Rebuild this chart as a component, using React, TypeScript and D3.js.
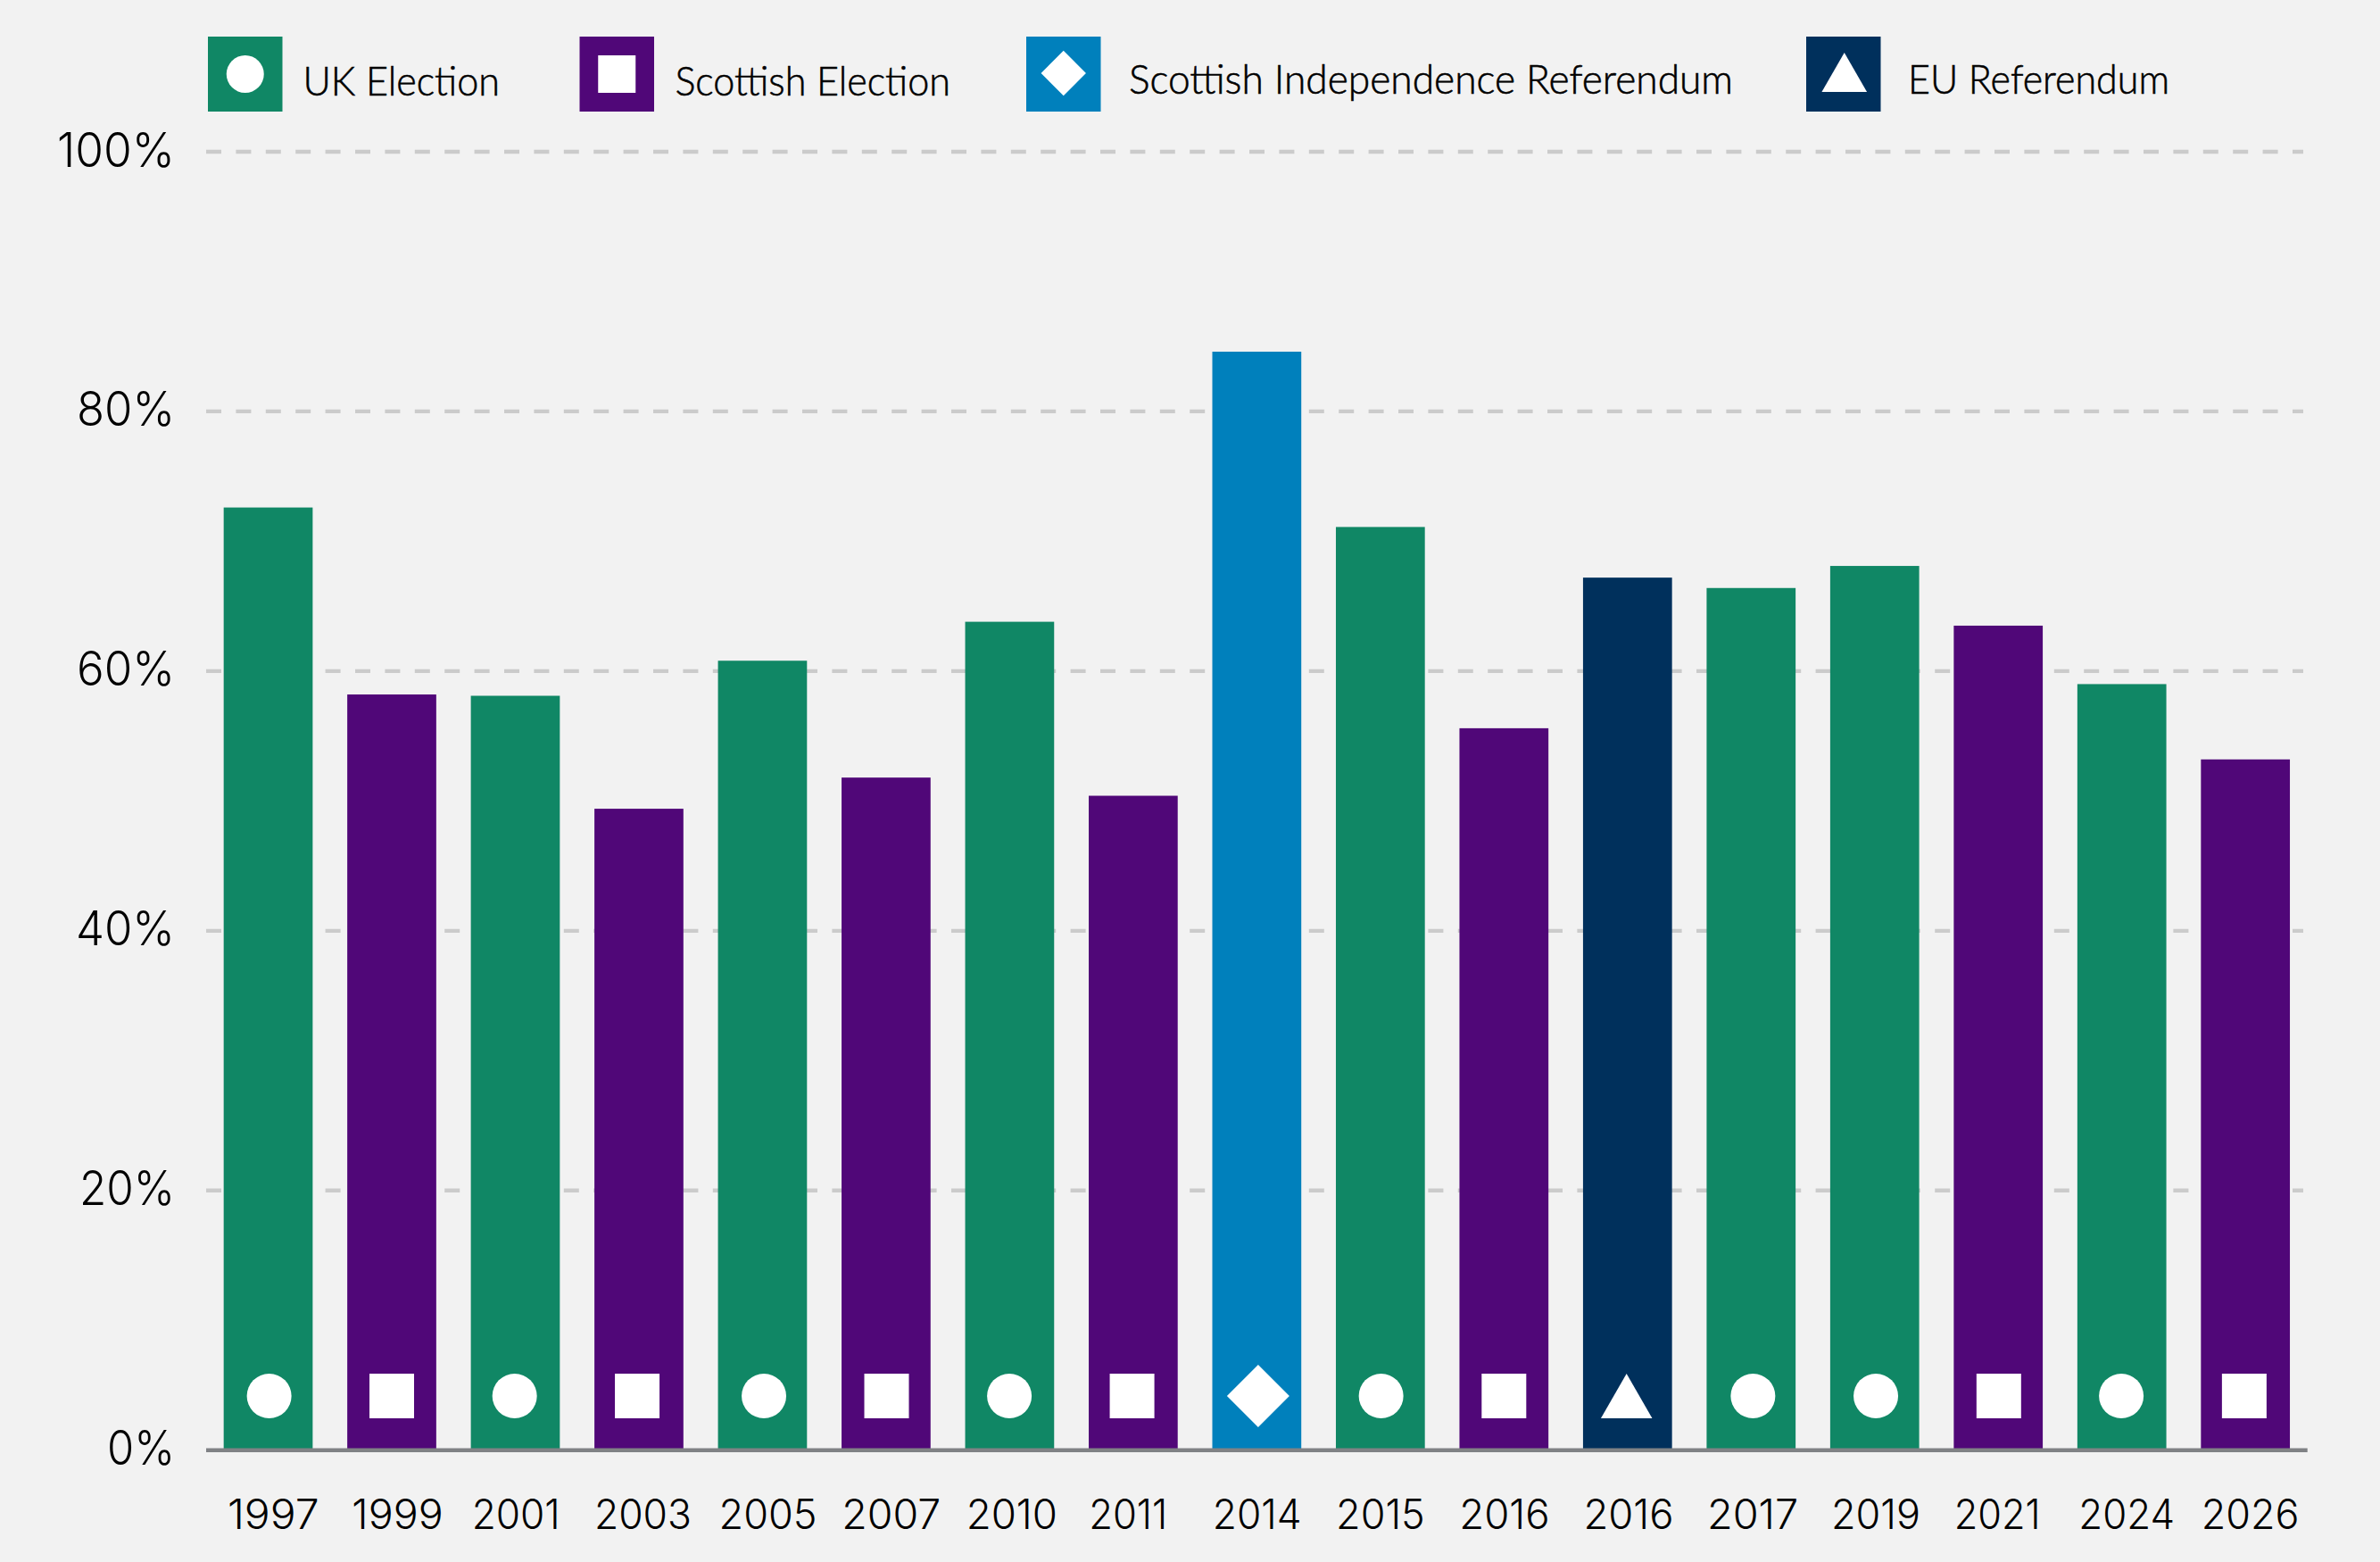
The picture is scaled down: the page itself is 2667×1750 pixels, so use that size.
import React from "react";
import * as d3 from "d3";

const yearLabels = ["1997","1999","2001","2003","2005","2007","2010","2011","2014","2015","2016","2016","2017","2019","2021","2024","2026"];
const turnoutValues = [72.6,58.2,58.1,49.4,60.8,51.8,63.8,50.4,84.6,71.1,55.6,67.2,66.4,68.1,63.5,59.0,53.2];
const voteTypes = ["uk","sco","uk","sco","uk","sco","uk","sco","ind","uk","sco","eu","uk","uk","sco","uk","sco"];
const yTicks = [0,20,40,60,80,100];
const legendKeys = ["uk","sco","ind","eu"];
const legendNames = ["UK Election","Scottish Election","Scottish Independence Referendum","EU Referendum"];

const COLORS: Record<string,string> = { uk:"#108765", sco:"#500778", ind:"#0080BC", eu:"#00305C" };
const TEXT_FONT = "Lato, 'Noto Sans', sans-serif";
const DIGIT_FONT = "Inter, Lato, sans-serif";
const W = 2667, H = 1750;

const markerNudge = [1.1,0,-0.8,-1.9,1.6,0.6,-0.3,-1.3,1.5,0.8,0,-1.1,2.1,1.3,0.6,-0.6,-1.3];
const tickNudge = [5.8,6.5,0.7,4.5,6.1,5.9,2.4,-5.7,0.3,0.1,0.7,1.2,1.8,1.3,-1.1,5.4,5.5];
const tickWidths = [98.7,98.3,95,105,106,107,98.3,84,95.7,95.7,97.3,97,98.3,96,92.7,103.7,105.7];
const yLabelWidths: Record<number,number> = {0:72,20:103,40:107,60:106,80:106,100:128};

const x = d3.scaleBand<number>().domain(d3.range(yearLabels.length)).range([231,2585.7]).paddingInner(0.28).paddingOuter(0.142);
const y = d3.scaleLinear().domain([0,100]).range([1624.7,170]);

function Marker({type,cx,cy,s}:{type:string,cx:number,cy:number,s:number}) {
  if (type==="uk") return <path transform={`translate(${cx},${cy})`} d={d3.symbol(d3.symbolCircle, Math.PI*s*s)()!} fill="#fff"/>;
  if (type==="sco") return <rect x={cx-s} y={cy-s} width={2*s} height={2*s} fill="#fff"/>;
  if (type==="ind") { const r=s*1.4; return <path d={`M${cx},${cy-r}L${cx+r},${cy}L${cx},${cy+r}L${cx-r},${cy}Z`} fill="#fff"/>; }
  return <path d={`M${cx},${cy-s}L${cx+s*1.15},${cy+s}L${cx-s*1.15},${cy+s}Z`} fill="#fff"/>;
}

const legendLayout = [
  {sx:233,tx:339.5,tw:220.5,by:107,my:83,ms:21,mdx:0},
  {sx:649.5,tx:756.5,tw:308.5,by:107,my:83,ms:21,mdx:0},
  {sx:1150,tx:1265,tw:677,by:105,my:82,ms:18,mdx:0},
  {sx:2024,tx:2138,tw:293,by:105,my:81,ms:22,mdx:1},
];

export default function App(){
  return (
    <svg width={W} height={H} viewBox={`0 0 ${W} ${H}`} style={{position:"absolute",left:0,top:0,display:"block",background:"#f2f2f2"}}>
      <rect width={W} height={H} fill="#f2f2f2"/>
      {yTicks.filter(t=>t>0).map(t=>(
        <line key={t} x1={231} x2={2581} y1={y(t)} y2={y(t)} stroke="#cbcbcb" strokeWidth={4.3} strokeDasharray="17 16.4"/>
      ))}
      {yearLabels.map((l,i)=>(
        <rect key={i} x={x(i)} y={y(turnoutValues[i])} width={x.bandwidth()} height={y(0)-y(turnoutValues[i])} fill={COLORS[voteTypes[i]]}/>
      ))}
      <line x1={231} x2={2585.7} y1={y(0)} y2={y(0)} stroke="#808285" strokeWidth={4.5}/>
      {yearLabels.map((l,i)=>(
        <Marker key={i} type={voteTypes[i]} cx={x(i)!+x.bandwidth()/2+markerNudge[i]} cy={1564} s={25}/>
      ))}
      {yTicks.map(t=>(
        <text key={t} x={194-yLabelWidths[t]-2} y={y(t)+16.5} fontFamily={DIGIT_FONT} fontSize={54} fontWeight={300} fill="#000" textLength={yLabelWidths[t]+4} lengthAdjust="spacingAndGlyphs">{t}%</text>
      ))}
      {yearLabels.map((l,i)=>(
        <text key={i} x={x(i)!+x.bandwidth()/2+tickNudge[i]-tickWidths[i]/2-2} y={1713} fontFamily={DIGIT_FONT} fontSize={46} fontWeight={300} fill="#000" textLength={tickWidths[i]+4} lengthAdjust="spacingAndGlyphs">{l}</text>
      ))}
      {legendKeys.map((k,i)=>{
        const L=legendLayout[i];
        return <g key={k}>
          <rect x={L.sx} y={41} width={83.5} height={84} fill={COLORS[k]}/>
          <Marker type={k} cx={L.sx+41.75+L.mdx} cy={L.my} s={L.ms}/>
          <text x={L.tx} y={L.by} fontFamily={TEXT_FONT} fontSize={46} fontWeight={300} fill="#000" stroke="#000" strokeWidth={0.6} textLength={L.tw} lengthAdjust="spacingAndGlyphs">{legendNames[i]}</text>
        </g>;
      })}
    </svg>
  );
}
